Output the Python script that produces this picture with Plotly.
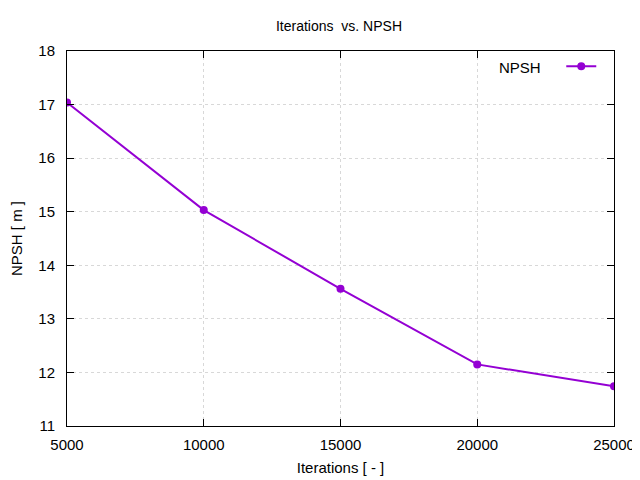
import plotly.graph_objects as go

iterations = [5000, 10000, 15000, 20000, 25000]
npsh = [17.04, 15.03, 13.56, 12.15, 11.74]
x_ticks = [5000, 10000, 15000, 20000, 25000]
y_ticks = [11, 12, 13, 14, 15, 16, 17, 18]

color = "#9400D3"
font = "Liberation Sans, Arial, sans-serif"

fig = go.Figure()
fig.add_trace(go.Scatter(
    x=iterations, y=npsh, mode="lines+markers", name=" ",
    line=dict(color=color, width=2),
    marker=dict(color=color, size=8),
    showlegend=True,
))

axis_common = dict(
    showline=True, linecolor="black", linewidth=1, mirror="ticks",
    ticks="inside", ticklen=7, tickcolor="black",
    showgrid=True, gridcolor="#d8d8d8", griddash="dot", gridwidth=1,
    zeroline=False, automargin=False,
    tickfont=dict(size=15, color="black", family=font),
)

# page body has an 8px margin, so the figure is offset by (8, 8)
fig.update_layout(
    width=640, height=480,
    paper_bgcolor="white", plot_bgcolor="white",
    margin=dict(l=59, r=34, t=43, b=62),
    title=dict(text="Iterations  vs. NPSH", x=(339 - 8) / 640, xanchor="center",
               y=1 - 18 / 480, yanchor="middle",
               font=dict(size=14, color="black", family=font)),
    xaxis=dict(range=[5000, 25000], tickvals=x_ticks, ticktext=[str(v) for v in x_ticks],
               ticklabelstandoff=5,
               title=dict(text="Iterations [ - ]", font=dict(size=15, color="black", family=font), standoff=10),
               **axis_common),
    yaxis=dict(range=[11, 18], tickvals=y_ticks, ticktext=[str(v) for v in y_ticks],
               ticklabelstandoff=8,
               title=dict(text="NPSH [ m ]", font=dict(size=15, color="black", family=font), standoff=14),
               **axis_common),
    legend=dict(x=0.995, y=1.003, xanchor="right", yanchor="top", bgcolor="rgba(0,0,0,0)",
                font=dict(size=15, color="black", family=font), itemwidth=30),
    annotations=[dict(text="NPSH", xref="paper", yref="paper", x=0.870, y=0.957,
                      xanchor="right", yanchor="middle", showarrow=False,
                      font=dict(size=15, color="black", family=font))],
)

fig.write_html("out.html")
